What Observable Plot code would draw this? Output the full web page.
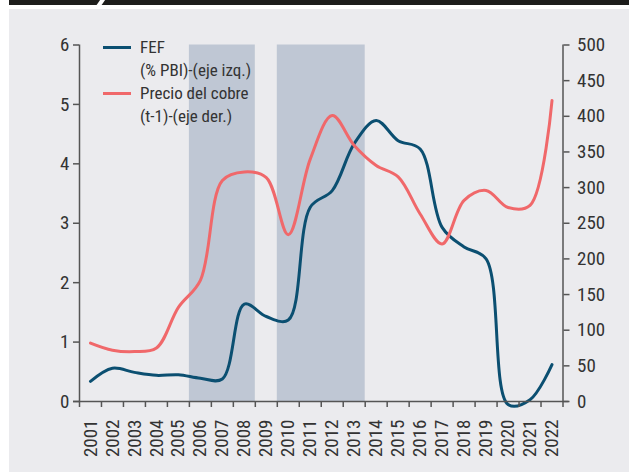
<!DOCTYPE html>
<html>
<head>
<meta charset="utf-8">
<script src="https://cdn.jsdelivr.net/npm/d3@7"></script>
<script src="https://cdn.jsdelivr.net/npm/@observablehq/plot@0.6"></script>
<style>
  html, body { margin: 0; padding: 0; background: #ffffff; width: 629px; height: 472px; overflow: hidden; }
  #wrap { position: relative; width: 629px; height: 472px; }
  .bar { position: absolute; left: 9px; top: 0; width: 620px; height: 5px; background: #1d1d1b; }
  .slash { position: absolute; left: 98px; top: -1px; width: 5px; height: 8px; background: #fff; transform: skewX(-35deg); }
  .bg { position: absolute; left: 9px; top: 9px; width: 620px; height: 463px; background: #ebebee; }
  #chart { position: absolute; left: 0; top: 0; }
  .legend { position: absolute; left: 0; top: 0; font-family: "Roboto Condensed", "Liberation Sans Narrow", "DejaVu Sans Condensed", "Roboto", sans-serif; font-stretch: condensed; font-size: 17px; color: #333; }
  .legend .sw { position: absolute; width: 28px; height: 3px; }
  .legend .tx { position: absolute; white-space: nowrap; line-height: 17px; }
</style>
</head>
<body>
<div id="wrap">
  <div class="bar"></div>
  <div class="slash"></div>
  <div class="bg"></div>
  <div id="chart"></div>
  <div class="legend" id="legend"></div>
</div>
<script>
const years = [2001, 2002, 2003, 2004, 2005, 2006, 2007, 2008, 2009, 2010, 2011, 2012, 2013, 2014, 2015, 2016, 2017, 2018, 2019, 2020, 2021, 2022];
const fef = [0.34, 0.56, 0.49, 0.44, 0.45, 0.39, 0.38, 1.64, 1.43, 1.37, 3.27, 3.55, 4.34, 4.73, 4.39, 4.25, 2.93, 2.60, 2.40, -0.05, 0.03, 0.62];
const copper = [82, 72, 70, 75, 132, 170, 310, 322, 314, 234, 340, 401, 359, 331, 315, 263, 221, 282, 296, 272, 275, 422];
const shadeStart = [2006, 2010];
const shadeEnd = [2008, 2013];
const leftTicks = [0, 1, 2, 3, 4, 5, 6];
const rightTicks = [0, 50, 100, 150, 200, 250, 300, 350, 400, 450, 500];
const seriesNames = ["FEF\n(% PBI)-(eje izq.)", "Precio del cobre\n(t-1)-(eje der.)"];
const colors = ["#0b4f71", "#f0686a"];

const leftMax = 6, rightMax = 500;
const toLeft = v => v * leftMax / rightMax;

const fefData = years.map((y, i) => ({year: y, v: fef[i]}));
const copData = years.map((y, i) => ({year: y, v: toLeft(copper[i])}));
const shades = shadeStart.map((s, i) => ({x1: s - 0.5, x2: shadeEnd[i] + 0.5}));
const bounds = [years[0] - 0.5, ...years.map(y => y + 0.5)];

const font = '"Roboto Condensed", "Liberation Sans Narrow", "DejaVu Sans Condensed", "Roboto", sans-serif';

const plot = Plot.plot({
  width: 629,
  height: 472,
  marginLeft: 79,
  marginRight: 66.5,
  marginTop: 44.5,
  marginBottom: 71,
  style: {background: "transparent", fontFamily: font, fontSize: "19px", color: "#333", fontStretch: "condensed"},
  x: {domain: [years[0] - 0.5, years[years.length - 1] + 0.5], axis: null},
  y: {domain: [0, leftMax], axis: null},
  marks: [
    Plot.rectY(shades, {x1: "x1", x2: "x2", y1: 0, y2: leftMax, fill: "#bfc7d4"}),
    Plot.line(fefData, {x: "year", y: "v", stroke: colors[0], strokeWidth: 3, curve: "catmull-rom"}),
    Plot.line(copData, {x: "year", y: "v", stroke: colors[1], strokeWidth: 3, curve: "catmull-rom"}),
    Plot.ruleX([bounds[0]], {y1: 0, y2: leftMax, stroke: "#555", strokeWidth: 1.5}),
    Plot.ruleX([bounds[bounds.length - 1]], {y1: 0, y2: leftMax, stroke: "#555", strokeWidth: 1.5}),
    Plot.ruleY([0], {stroke: "#555", strokeWidth: 1.5, insetLeft: -6, insetRight: -6}),
    Plot.axisY(leftTicks, {anchor: "left", label: null, tickSize: 6, tickPadding: 4, stroke: "#555", strokeWidth: 1.5, fill: "#333", tickFormat: d => String(d)}),
    Plot.axisY(rightTicks.map(toLeft), {anchor: "right", label: null, tickSize: 6, tickPadding: 8, stroke: "#555", strokeWidth: 1.5, fill: "#333", tickFormat: d => String(Math.round(d * rightMax / leftMax))}),
    Plot.axisX(bounds, {anchor: "bottom", label: null, tickSize: 6, stroke: "#555", strokeWidth: 1.5, tickFormat: () => ""}),
    Plot.axisX(years, {anchor: "bottom", label: null, tickSize: 0, tickPadding: 18, tickRotate: -90, fill: "#333", tickFormat: d => String(d)})
  ]
});
document.getElementById("chart").appendChild(plot);

const legend = document.getElementById("legend");
const rows = [47, 93];
seriesNames.forEach((name, i) => {
  const sw = document.createElement("div");
  sw.className = "sw";
  sw.style.left = "103px";
  sw.style.top = (rows[i] - 1.5) + "px";
  sw.style.background = colors[i];
  legend.appendChild(sw);
  name.split("\n").forEach((line, j) => {
    const t = document.createElement("div");
    t.className = "tx";
    t.style.left = "140px";
    t.style.top = (rows[i] - 8 + j * 23) + "px";
    t.textContent = line;
    legend.appendChild(t);
  });
});
</script>
</body>
</html>
